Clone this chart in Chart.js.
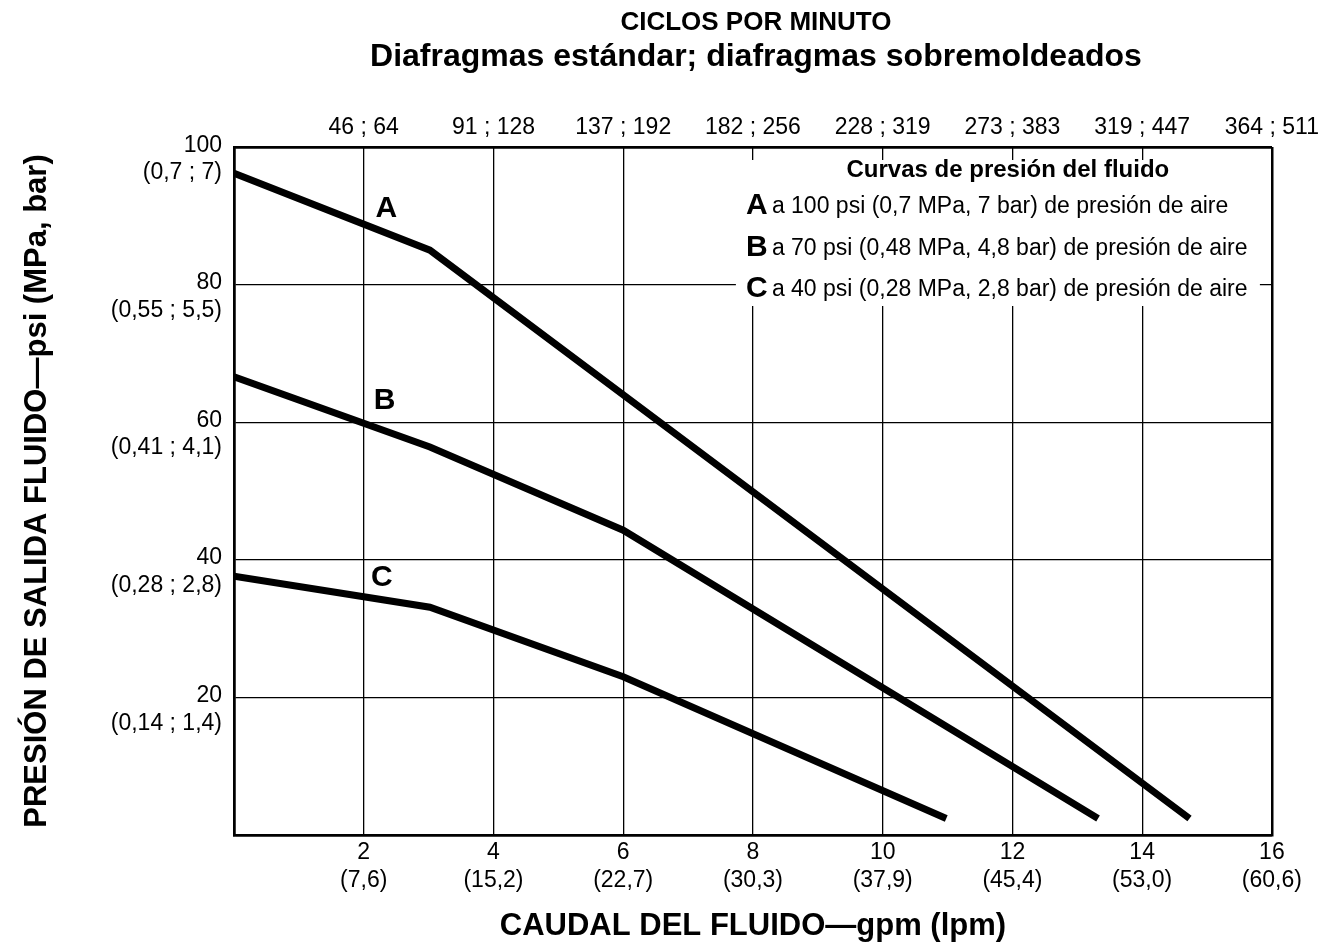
<!DOCTYPE html>
<html lang="es">
<head>
<meta charset="UTF-8">
<title>Ciclos por minuto - curvas de presión del fluido</title>
<script src="https://cdn.jsdelivr.net/npm/chart.js"></script>
<style>
  html, body { margin: 0; padding: 0; background: #fff; }
</style>
</head>
<body>
<canvas id="pumpChart" width="1325" height="949"></canvas>
<script>
// curves: flow in gpm, pressure in psi
const flowA = [0, 3.02, 14.73];
const pressureA = [96.2, 85.0, 2.4];
const flowB = [0, 3.02, 6.0, 13.32];
const pressureB = [66.6, 56.4, 44.3, 2.4];
const flowC = [0, 3.02, 6.0, 10.98];
const pressureC = [37.6, 33.1, 23.0, 2.4];

const lpmLabels = ['(7,6)', '(15,2)', '(22,7)', '(30,3)', '(37,9)', '(45,4)', '(53,0)', '(60,6)'];
const cycleLabels = ['46 ; 64', '91 ; 128', '137 ; 192', '182 ; 256', '228 ; 319', '273 ; 383', '319 ; 447', '364 ; 511'];
const barLabels = ['(0,14 ; 1,4)', '(0,28 ; 2,8)', '(0,41 ; 4,1)', '(0,55 ; 5,5)', '(0,7 ; 7)'];

const curveNames = ['A', 'B', 'C'];
const curveLabelX = [2.35, 2.32, 2.28];
const curveLabelY = [91.0, 63.1, 37.4];
const legendRows = [
    'a 100 psi (0,7 MPa, 7 bar) de presión de aire',
    'a 70 psi (0,48 MPa, 4,8 bar) de presión de aire',
    'a 40 psi (0,28 MPa, 2,8 bar) de presión de aire'
];

const FONT = '"Liberation Sans", Arial, Helvetica, sans-serif';

function toPoints(xs, ys) {
    return xs.map((x, i) => ({ x: x, y: ys[i] }));
}

function curve(xs, ys) {
    return {
        data: toPoints(xs, ys),
        borderColor: '#000',
        borderWidth: 7,
        pointRadius: 0,
        tension: 0,
        borderCapStyle: 'butt',
        borderJoinStyle: 'miter',
        fill: false
    };
}

// titles, legend box and curve letters
const textPlugin = {
    id: 'textPlugin',
    beforeDatasetsDraw(chart) {
        const { ctx, chartArea } = chart;
        const cx = (chartArea.left + chartArea.right) / 2 + 3;
        ctx.save();
        ctx.fillStyle = '#000';
        ctx.textAlign = 'center';
        ctx.textBaseline = 'middle';
        ctx.font = 'bold 26px ' + FONT;
        ctx.fillText('CICLOS POR MINUTO', cx, 23);
        ctx.font = 'bold 32px ' + FONT;
        ctx.fillText('Diafragmas estándar; diafragmas sobremoldeados', cx, 57);

        // legend sits on a white box that hides the grid
        const bx = chartArea.right - 536;
        const by = chartArea.top + 13;
        ctx.fillStyle = '#fff';
        ctx.fillRect(bx, by, 524, 146);
        ctx.fillStyle = '#000';
        ctx.font = 'bold 24px ' + FONT;
        ctx.fillText('Curvas de presión del fluido', bx + 272, chartArea.top + 23);
        ctx.textAlign = 'left';
        legendRows.forEach((row, i) => {
            const y = chartArea.top + 59 + i * 41.5;
            ctx.font = 'bold 30px ' + FONT;
            ctx.fillText(curveNames[i], bx + 10, y);
            ctx.font = '23px ' + FONT;
            ctx.fillText(row, bx + 36, y + 1);
        });
        ctx.restore();
    },
    afterDatasetsDraw(chart) {
        const { ctx, scales } = chart;
        ctx.save();
        ctx.fillStyle = '#000';
        ctx.textAlign = 'center';
        ctx.textBaseline = 'middle';
        ctx.font = 'bold 30px ' + FONT;
        curveNames.forEach((name, i) => {
            ctx.fillText(name, scales.x.getPixelForValue(curveLabelX[i]), scales.y.getPixelForValue(curveLabelY[i]));
        });
        ctx.restore();
    }
};

const edgeWidth = (lo, hi) => ctx => (ctx.tick.value === lo || ctx.tick.value === hi) ? 2.5 : 1.3;

new Chart(document.getElementById('pumpChart'), {
    type: 'line',
    data: {
        datasets: [curve(flowA, pressureA), curve(flowB, pressureB), curve(flowC, pressureC)]
    },
    options: {
        responsive: false,
        animation: false,
        events: [],
        layout: { padding: { left: 0, right: 52, top: 0, bottom: 0 } },
        plugins: {
            legend: { display: false },
            title: { display: false },
            tooltip: { enabled: false }
        },
        scales: {
            x: {
                type: 'linear',
                position: 'bottom',
                min: 0,
                max: 16,
                afterFit: s => { s.height = 114; },
                ticks: {
                    stepSize: 2,
                    autoSkip: false,
                    maxRotation: 0,
                    padding: 4,
                    color: '#000',
                    font: { family: FONT, size: 23 },
                    callback: v => v === 0 ? '' : [String(v), lpmLabels[v / 2 - 1]]
                },
                grid: { color: '#000', lineWidth: edgeWidth(0, 16), drawTicks: false },
                border: { color: '#000', width: 2.5 },
                title: {
                    display: true,
                    text: 'CAUDAL DEL FLUIDO—gpm (lpm)',
                    color: '#000',
                    font: { family: FONT, size: 31, weight: 'bold' },
                    padding: { top: 0, bottom: 4 }
                }
            },
            x2: {
                type: 'linear',
                position: 'top',
                min: 0,
                max: 16,
                afterFit: s => { s.height = 147; },
                ticks: {
                    stepSize: 2,
                    autoSkip: false,
                    maxRotation: 0,
                    padding: 6,
                    color: '#000',
                    font: { family: FONT, size: 23 },
                    callback: v => v === 0 ? '' : cycleLabels[v / 2 - 1]
                },
                grid: { display: false, drawTicks: false },
                border: { color: '#000', width: 2.5 }
            },
            y: {
                type: 'linear',
                min: 0,
                max: 100,
                afterFit: s => { s.width = 234; },
                ticks: {
                    stepSize: 20,
                    padding: 12,
                    labelOffset: 12,
                    color: '#000',
                    font: { family: FONT, size: 23 },
                    callback: v => v === 0 ? '' : [String(v), barLabels[v / 20 - 1]]
                },
                grid: { color: '#000', lineWidth: edgeWidth(0, 100), drawTicks: false },
                border: { color: '#000', width: 2.5 },
                title: {
                    display: true,
                    text: 'PRESIÓN DE SALIDA FLUIDO—psi (MPa, bar)',
                    color: '#000',
                    font: { family: FONT, size: 31, weight: 'bold' },
                    padding: { top: 19, bottom: 0 }
                }
            }
        }
    },
    plugins: [textPlugin]
});
</script>
</body>
</html>
